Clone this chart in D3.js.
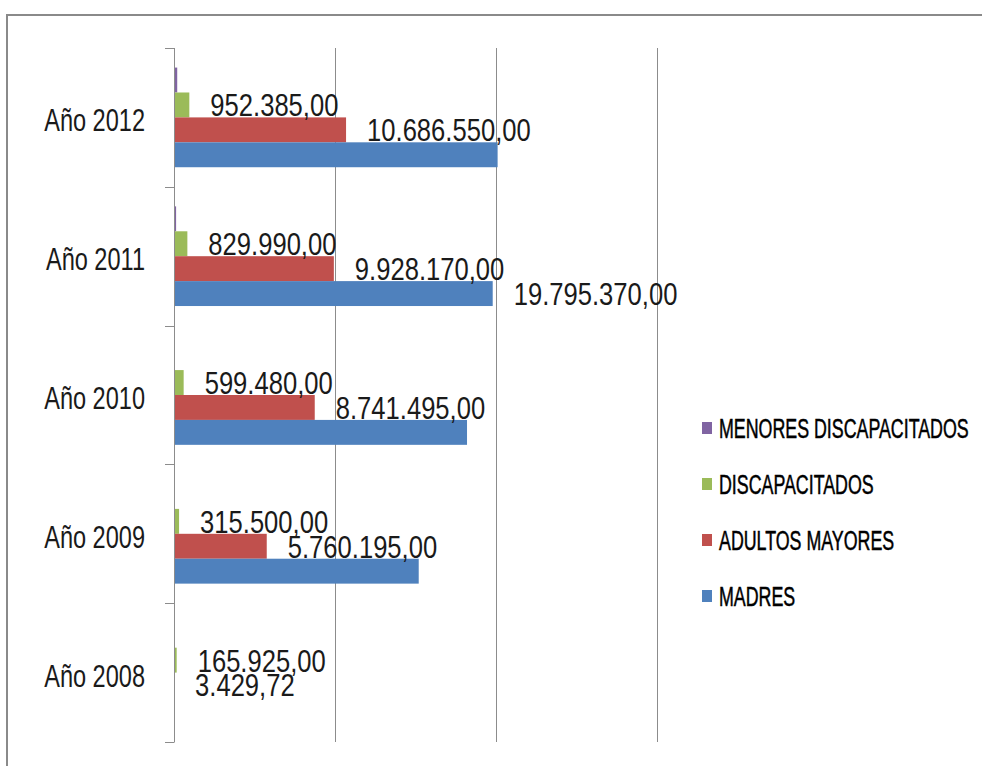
<!DOCTYPE html>
<html>
<head>
<meta charset="utf-8">
<script src="https://cdn.jsdelivr.net/npm/d3@7"></script>
<style>
  html, body { margin: 0; padding: 0; background: #ffffff; }
  svg { display: block; }
  text { font-family: "Liberation Sans", Arial, sans-serif; }
</style>
</head>
<body>
<svg id="chart" width="982" height="766"></svg>
<script>
// ---- Data ----
const categories = ["Año 2012", "Año 2011", "Año 2010", "Año 2009", "Año 2008"];
const seriesNames = ["MENORES DISCAPACITADOS", "DISCAPACITADOS", "ADULTOS MAYORES", "MADRES"];
const menores = [200000, 130000, 0, 0, 0];
const discapacitados = [952385, 829990, 599480, 315500, 165925];
const adultos = [10686550, 9928170, 8741495, 5760195, 3429.72];
const madres = [20100000, 19795370, 18200000, 15200000, 0];
// which data labels are displayed
const menoresShown = [false, false, false, false, false];
const discapacitadosShown = [true, true, true, true, true];
const adultosShown = [true, true, true, true, true];
const madresShown = [false, true, false, false, false];
const xTicks = [0, 10000000, 20000000, 30000000];
const colors = ["#8064A2", "#9BBB59", "#C0504D", "#4F81BD"];

const seriesValues = [menores, discapacitados, adultos, madres];
const seriesShown = [menoresShown, discapacitadosShown, adultosShown, madresShown];

// ---- Layout ----
const svg = d3.select("#chart");
const plot = { left: 174, right: 657, top: 48, bottom: 742 };

const x = d3.scaleLinear().domain([0, 30000000]).range([plot.left, plot.right]);
const y = d3.scaleBand().domain(categories).range([plot.top, plot.bottom])
  .paddingInner(0.282).paddingOuter(0.141);
const ySub = d3.scaleBand().domain(seriesNames).range([0, y.bandwidth()]);

const fmt = v => {
  const parts = v.toFixed(2).split(".");
  const intPart = parts[0].replace(/\B(?=(\d{3})+(?!\d))/g, ".");
  return intPart + "," + parts[1];
};

// Outer frame
svg.append("line").attr("x1", 7).attr("x2", 982).attr("y1", 15).attr("y2", 15)
  .attr("stroke", "#8a8a8a").attr("stroke-width", 2);
svg.append("line").attr("x1", 7).attr("x2", 7).attr("y1", 14).attr("y2", 766)
  .attr("stroke", "#8a8a8a").attr("stroke-width", 2);

// Gridlines
svg.append("g").selectAll("line").data(xTicks.slice(1)).join("line")
  .attr("x1", d => Math.round(x(d)) + 0.5).attr("x2", d => Math.round(x(d)) + 0.5)
  .attr("y1", plot.top).attr("y2", plot.bottom)
  .attr("stroke", "#8c8c8c").attr("stroke-width", 1);

// Category axis (left)
const boundaries = categories.map(c => y(c) - y.step() * y.paddingInner() / 2)
  .concat([plot.bottom]);
const axisG = svg.append("g");
axisG.append("line").attr("x1", plot.left + 0.5).attr("x2", plot.left + 0.5)
  .attr("y1", plot.top).attr("y2", plot.bottom)
  .attr("stroke", "#8c8c8c").attr("stroke-width", 1);
axisG.selectAll("line.tick").data(boundaries).join("line").attr("class", "tick")
  .attr("x1", plot.left - 9).attr("x2", plot.left + 0.5)
  .attr("y1", d => Math.round(d) + 0.5).attr("y2", d => Math.round(d) + 0.5)
  .attr("stroke", "#8c8c8c").attr("stroke-width", 1);

// Category labels
axisG.selectAll("g.cat").data(categories).join("g").attr("class", "cat")
  .attr("transform", c => `translate(145,${y(c) + y.bandwidth() / 2 + 3 + 0.355 * 31})`)
  .append("text")
  .attr("text-anchor", "end")
  .attr("transform", "scale(0.76,1)")
  .attr("font-size", 31)
  .attr("fill", "#1a1a1a")
  .text(c => c);

// Bars
const barData = [];
seriesNames.forEach((s, si) => {
  categories.forEach((c, ci) => {
    barData.push({ s, si, c, v: seriesValues[si][ci], shown: seriesShown[si][ci] });
  });
});

svg.append("g").selectAll("rect").data(barData).join("rect")
  .attr("x", plot.left + 1)
  .attr("y", d => y(d.c) + ySub(d.s))
  .attr("width", d => Math.max(0, x(d.v) - plot.left - 1))
  .attr("height", ySub.bandwidth())
  .attr("fill", d => colors[d.si]);

// Data labels
svg.append("g").selectAll("g").data(barData.filter(d => d.shown)).join("g")
  .attr("transform", d => `translate(${x(d.v) + 21},${y(d.c) + ySub(d.s) + ySub.bandwidth() / 2 + 0.355 * 32})`)
  .append("text")
  .attr("transform", "scale(0.8,1)")
  .attr("font-size", 32)
  .attr("fill", "#1a1a1a")
  .text(d => fmt(d.v));

// Legend
const legendY0 = 428, legendStep = 56;
const leg = svg.append("g").selectAll("g").data(seriesNames).join("g")
  .attr("transform", (s, i) => `translate(702,${legendY0 + i * legendStep})`);
leg.append("rect").attr("x", 0).attr("y", -6).attr("width", 10).attr("height", 12)
  .attr("fill", (s, i) => colors[i]);
leg.append("text")
  .attr("transform", "translate(17,9.5) scale(0.66,1)")
  .attr("font-size", 27)
  .attr("fill", "#000")
  .attr("stroke", "#000")
  .attr("stroke-width", 0.5)
  .text(s => s);
</script>
</body>
</html>
